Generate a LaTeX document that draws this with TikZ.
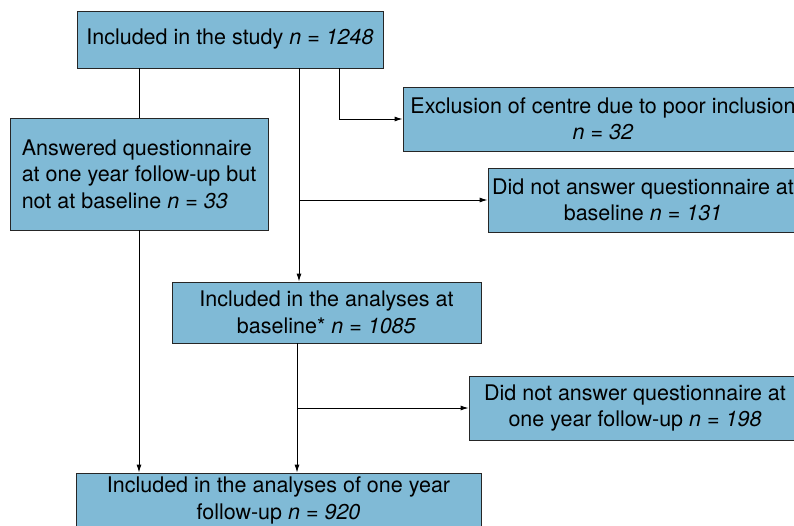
\documentclass[tikz,border=0pt]{standalone}
\usepackage{fontspec}
\setmainfont{TeX Gyre Heros}
\usetikzlibrary{arrows.meta,positioning}

\definecolor{flowblue}{RGB}{128,186,214}

\begin{document}
\begin{tikzpicture}[x=1pt, y=-1pt,
        box/.style={rectangle, draw=black!85, line width=0.9pt, fill=flowblue, align=center, inner sep=0pt, font=\fontsize{21.5}{26.5}\selectfont},
        arrow/.style={-{Latex[length=8pt,width=5pt]}, line width=0.9pt},
        link/.style={line width=0.9pt}
    ]
        \path[use as bounding box, clip] (0,0) rectangle (794,525);

        % Study population
        \node[box, minimum width=306pt, minimum height=57pt] (study) at (230,39.5) {Included in the study \textit{n = 1248}};

        % Answered only at follow-up
        \node[box, align=left, minimum width=258pt, minimum height=112pt] (late) at (139,174) {Answered questionnaire\\at one year follow-up but\\not at baseline \textit{n = 33}};

        % Excluded centre
        \node[box, minimum width=400pt, minimum height=64pt] (centre) at (603,119) {Exclusion of centre due to poor inclusion\\\textit{n = 32}};

        % No answer at baseline
        \node[box, minimum width=310pt, minimum height=64pt] (nobase) at (643,200) {Did not answer questionnaire at\\baseline \textit{n = 131}};

        % Baseline analyses
        \node[box, minimum width=309pt, minimum height=61pt] (base) at (326.5,312.5) {Included in the analyses at\\baseline* \textit{n = 1085}};

        % No answer at follow-up
        \node[box, minimum width=332pt, minimum height=64pt] (nofollow) at (635,408) {Did not answer questionnaire at\\one year follow-up \textit{n = 198}};

        % Follow-up analyses
        \node[box, minimum width=405pt, minimum height=55pt] (follow) at (278.5,500.5) {Included in the analyses of one year\\follow-up \textit{n = 920}};

        % Branch points
        \coordinate (turn) at (339,119);
        \coordinate (split1) at (299,200);
        \coordinate (split2) at (297,408);

        % Connections
        \draw[link] (study.south -| late.north) -- (late.north);
        \draw[arrow] (late.south) -- (follow.north -| late.south);
        \draw[arrow] (study.south -| turn) |- (centre.west);
        \draw[arrow] (study.south -| split1) -- (base.north -| split1);
        \draw[arrow] (split1) -- (nobase.west);
        \draw[arrow] (base.south -| split2) -- (follow.north -| split2);
        \draw[arrow] (split2) -- (nofollow.west);

    \end{tikzpicture}
\end{document}
